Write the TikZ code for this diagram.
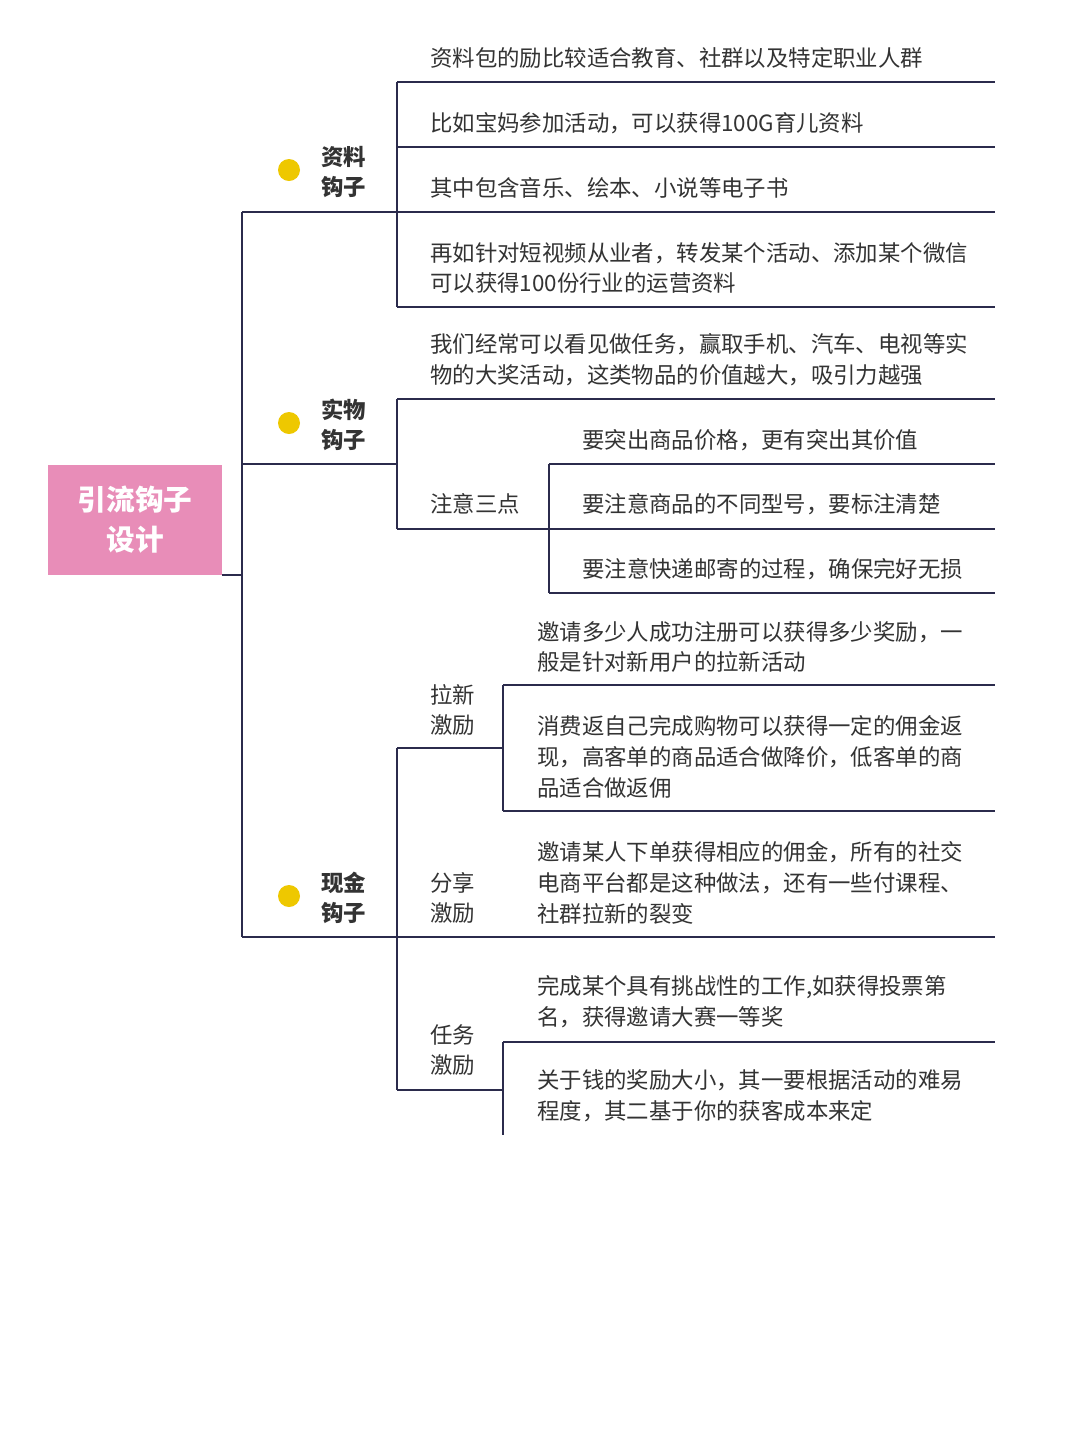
\documentclass[tikz,border=0pt]{standalone}
\usepackage{fontspec}
\setmainfont{Noto Sans CJK SC}
\begin{document}
\begin{tikzpicture}[x=0.75pt,y=-0.75pt,
  ln/.style={draw=lncol,line width=1.5pt},
  txt/.style={anchor=west,inner sep=0pt,font=\fontsize{16.8}{23}\selectfont,text=txtcol,align=left},
  hook/.style={txt,font=\bfseries\fontsize{16.8}{23}\selectfont},
  dot/.style={circle,fill=dotcol,inner sep=0pt,minimum size=16.5pt}]
\definecolor{lncol}{HTML}{2B2B4C}
\definecolor{txtcol}{HTML}{333333}
\definecolor{dotcol}{HTML}{EEC800}
\definecolor{rootcol}{HTML}{E88DB8}
\useasboundingbox (0,0) rectangle (1080,1440);
\fill[white] (0,0) rectangle (1080,1440);
% root
\node[fill=rootcol,minimum width=130.5pt,minimum height=82.5pt,inner sep=0pt,text=white,align=center,font=\bfseries\fontsize{21.5}{30}\selectfont] (root) at (135,520) {引流钩子\\设计};
\coordinate (r1) at (222,575);
\coordinate (tr) at (242,575);
\draw[ln] (r1) -- (tr);
\draw[ln] (242,212) -- (242,937);
% branch 1
\draw[ln] (242,212) -- (397,212);
\node[dot] (d1) at (289,170) {};
\node[hook] (h1) at (321,172) {资料\\钩子};
\draw[ln] (397,82) -- (397,307);
\foreach \y in {82,147,212,307} \draw[ln] (397,\y) -- (995,\y);
\node[txt] (t11) at (430,58) {资料包的励比较适合教育、社群以及特定职业人群};
\node[txt] (t12) at (430,123) {比如宝妈参加活动，可以获得100G育儿资料};
\node[txt] (t13) at (430,188) {其中包含音乐、绘本、小说等电子书};
\node[txt] (t14) at (430,268) {再如针对短视频从业者，转发某个活动、添加某个微信\\可以获得100份行业的运营资料};
% branch 2
\draw[ln] (242,464) -- (397,464);
\node[dot] (d2) at (289,423) {};
\node[hook] (h2) at (321,425) {实物\\钩子};
\draw[ln] (397,399) -- (397,529);
\draw[ln] (397,399) -- (995,399);
\node[txt] (t21) at (430,360) {我们经常可以看见做任务，赢取手机、汽车、电视等实\\物的大奖活动，这类物品的价值越大，吸引力越强};
\draw[ln] (397,529) -- (549,529);
\node[txt] (t22) at (430,504) {注意三点};
\draw[ln] (549,464) -- (549,593);
\foreach \y in {464,529,593} \draw[ln] (549,\y) -- (995,\y);
\node[txt] (t23) at (582,440) {要突出商品价格，更有突出其价值};
\node[txt] (t24) at (582,504) {要注意商品的不同型号，要标注清楚};
\node[txt] (t25) at (582,569) {要注意快递邮寄的过程，确保完好无损};
% branch 3
\draw[ln] (242,937) -- (397,937);
\node[dot] (d3) at (289,896) {};
\node[hook] (h3) at (321,898) {现金\\钩子};
\draw[ln] (397,748) -- (397,1090);
\draw[ln] (397,748) -- (503,748);
\node[txt] (t31) at (430,710) {拉新\\激励};
\draw[ln] (503,685) -- (503,811);
\draw[ln] (503,685) -- (995,685);
\draw[ln] (503,811) -- (995,811);
\node[txt] (t32) at (537,647) {邀请多少人成功注册可以获得多少奖励，一\\般是针对新用户的拉新活动};
\node[txt] (t33) at (537,757) {消费返自己完成购物可以获得一定的佣金返\\现，高客单的商品适合做降价，低客单的商\\品适合做返佣};
\draw[ln] (397,937) -- (995,937);
\node[txt] (t34) at (430,898) {分享\\激励};
\node[txt] (t35) at (537,883) {邀请某人下单获得相应的佣金，所有的社交\\电商平台都是这种做法，还有一些付课程、\\社群拉新的裂变};
\draw[ln] (397,1090) -- (503,1090);
\node[txt] (t36) at (430,1050) {任务\\激励};
\draw[ln] (503,1042) -- (503,1135);
\draw[ln] (503,1042) -- (995,1042);
\node[txt] (t37) at (537,1002) {完成某个具有挑战性的工作,如获得投票第\\名，获得邀请大赛一等奖};
\node[txt] (t38) at (537,1096) {关于钱的奖励大小，其一要根据活动的难易\\程度，其二基于你的获客成本来定};
\end{tikzpicture}
\end{document}
